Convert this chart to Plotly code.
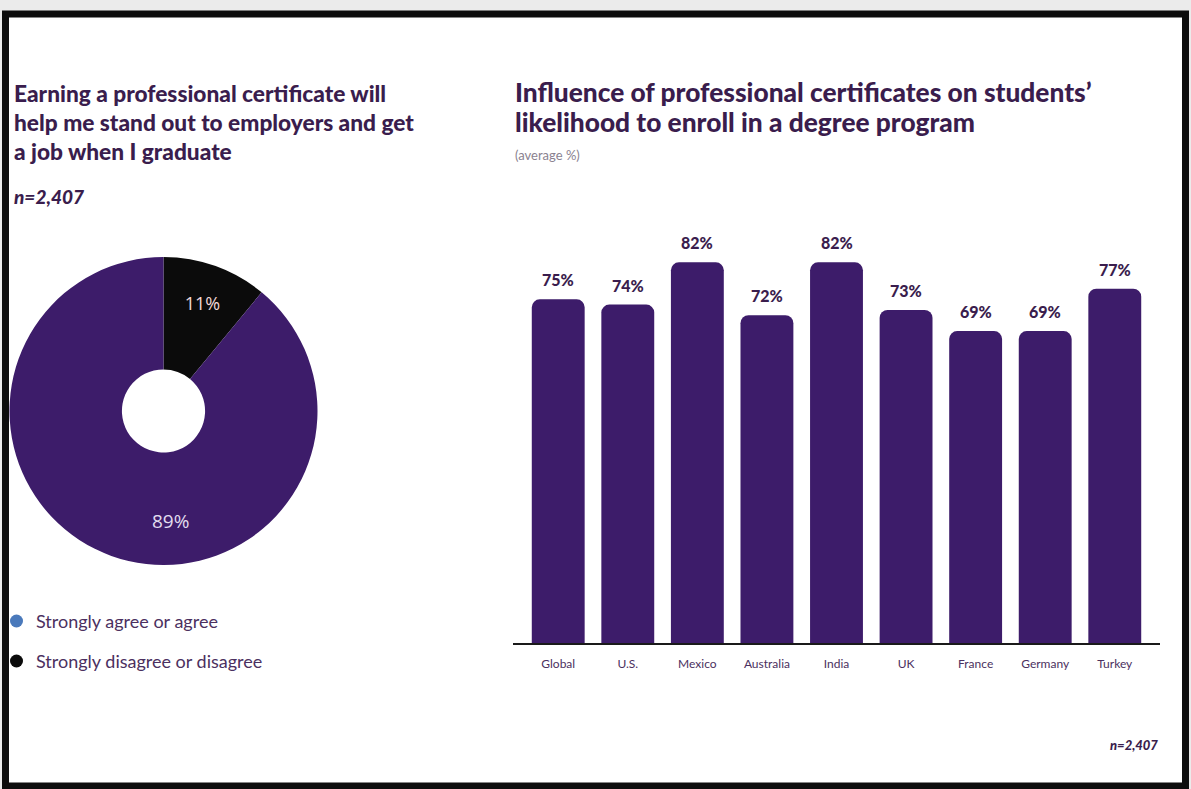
import plotly.graph_objects as go

W, H = 1191, 789

# Survey data
pie_labels = ["Strongly disagree or disagree", "Strongly agree or agree"]
pie_values = [11, 89]

countries = ["Global", "U.S.", "Mexico", "Australia", "India", "UK", "France", "Germany", "Turkey"]
likelihood = [75, 74, 82, 72, 82, 73, 69, 69, 77]

left_title = ["Earning a professional certificate will",
              "help me stand out to employers and get",
              "a job when I graduate"]
right_title = ["Influence of professional certificates on students\u2019",
               "likelihood to enroll in a degree program"]
sample_note = "n=2,407"

PURPLE = "#3d1c6a"
INK = "#3a1d4d"
FONT = "Lato"


def px_x(v):
    return v / W


def px_y(v):
    return 1 - v / H


fig = go.Figure()

# Donut chart; the large slice's label is placed separately below the hole
fig.add_trace(go.Pie(
    labels=pie_labels,
    values=pie_values,
    sort=False,
    direction="clockwise",
    rotation=0,
    hole=0.27,
    marker=dict(colors=["#0b0b0b", PURPLE], line=dict(width=0)),
    texttemplate=["%{value}%", ""],
    textposition="inside",
    insidetextorientation="horizontal",
    textfont=dict(family="Open Sans", size=18, color="#f2d8d8"),
    domain=dict(x=[px_x(9), px_x(318)], y=[px_y(565), px_y(257)]),
    showlegend=False,
    hoverinfo="label+percent",
))

# Bar chart
fig.add_trace(go.Bar(
    x=countries,
    y=likelihood,
    marker=dict(color=PURPLE, line=dict(width=0)),
    width=0.76,
    showlegend=False,
    hovertemplate="%{x}: %{y}%<extra></extra>",
))

annotations = []

# Label of the agree slice
annotations.append(dict(
    text=f"{pie_values[1]}%", x=px_x(170), y=px_y(521),
    xref="paper", yref="paper", xanchor="center", yanchor="middle",
    showarrow=False, font=dict(family="Open Sans", size=19, color="#e2dcef")))

# Left title
for i, line in enumerate(left_title):
    annotations.append(dict(
        text=line, x=px_x(12), y=px_y(93 + 29 * i),
        xref="paper", yref="paper", xanchor="left", yanchor="middle",
        showarrow=False, font=dict(family=FONT, size=22.7, weight=900, color=INK)))
annotations.append(dict(
    text=f"<i>{sample_note}</i>", x=px_x(12), y=px_y(196),
    xref="paper", yref="paper", xanchor="left", yanchor="middle",
    showarrow=False, font=dict(family=FONT, size=19, weight=900, color=INK)))

# Right title
for i, line in enumerate(right_title):
    annotations.append(dict(
        text=line, x=px_x(513), y=px_y(92 + 30 * i),
        xref="paper", yref="paper", xanchor="left", yanchor="middle",
        showarrow=False, font=dict(family=FONT, size=26.3, weight=900, color=INK)))
annotations.append(dict(
    text="(average %)", x=px_x(513), y=px_y(155),
    xref="paper", yref="paper", xanchor="left", yanchor="middle",
    showarrow=False, font=dict(family=FONT, size=13, color="#8a8290")))

# Value labels above bars
for c, v in zip(countries, likelihood):
    annotations.append(dict(
        text=f"{v}%", x=c, y=v, xref="x", yref="y",
        xanchor="center", yanchor="bottom", yshift=8, showarrow=False,
        font=dict(family=FONT, size=16, weight=900, color=INK)))

# Bottom-right sample size
annotations.append(dict(
    text=f"<i>{sample_note}</i>", x=px_x(1160), y=px_y(745),
    xref="paper", yref="paper", xanchor="right", yanchor="middle",
    showarrow=False, font=dict(family=FONT, size=13, weight=900, color=INK)))

# Legend entries for the donut
legend_items = [("Strongly agree or agree", "#4a79bb", 621),
                ("Strongly disagree or disagree", "#0b0b0b", 661)]
shapes = [
    # white card with a heavy black frame
    dict(type="rect", xref="paper", yref="paper",
         x0=px_x(5.5), x1=px_x(1185.5), y0=px_y(786), y1=px_y(14),
         fillcolor="white", line=dict(color="#0d0d0d", width=7), layer="below"),
]
for text, color, yc in legend_items:
    shapes.append(dict(type="circle", xref="paper", yref="paper",
                       x0=px_x(10), x1=px_x(23), y0=px_y(yc + 6.5), y1=px_y(yc - 6.5),
                       fillcolor=color, line=dict(width=0)))
    annotations.append(dict(
        text=text, x=px_x(34), y=px_y(yc), xref="paper", yref="paper",
        xanchor="left", yanchor="middle", showarrow=False,
        font=dict(family=FONT, size=18, color="#4b3060")))

fig.update_layout(
    width=W, height=H,
    margin=dict(l=0, r=0, t=0, b=0),
    paper_bgcolor="#ebebeb",
    plot_bgcolor="rgba(0,0,0,0)",
    barcornerradius=8,
    annotations=annotations,
    shapes=shapes,
    xaxis=dict(
        domain=[px_x(513), px_x(1160)],
        range=[-0.65, 8.65],
        showline=True, linecolor="#1a1a1a", linewidth=2,
        showgrid=False, zeroline=False,
        ticks="outside", ticklen=9, tickcolor="rgba(0,0,0,0)",
        tickfont=dict(family=FONT, size=12, color="#4b3060"),
        fixedrange=True,
    ),
    yaxis=dict(
        domain=[px_y(643), px_y(220)],
        range=[10, 90],
        visible=False, showgrid=False, zeroline=False,
        fixedrange=True,
    ),
)

fig.write_html("out.html")
